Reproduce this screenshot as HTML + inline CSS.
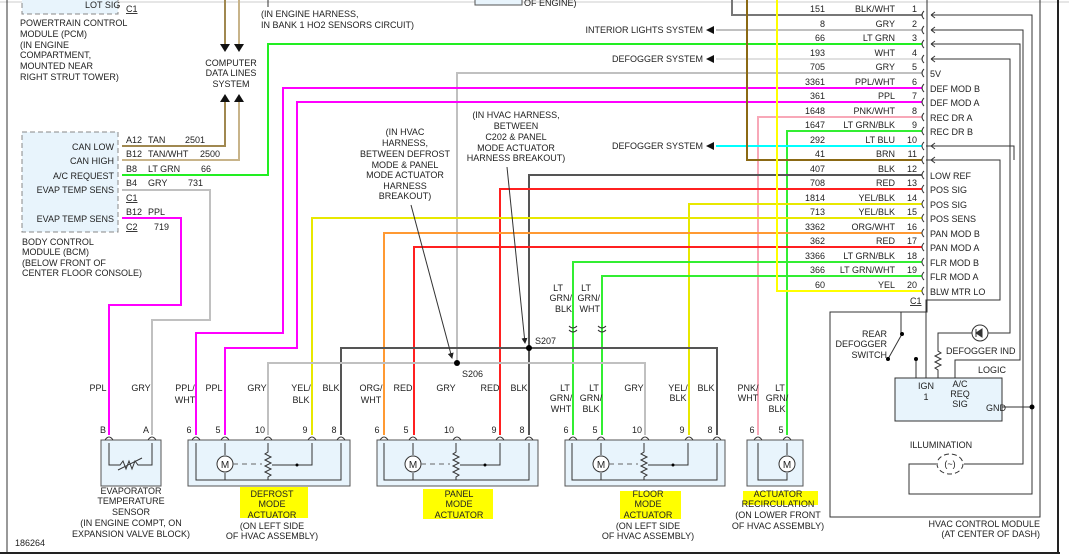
<!DOCTYPE html>
<html><head><meta charset="utf-8"><style>
html,body{margin:0;padding:0;background:#fff;}
svg{display:block;}
text{font-family:"Liberation Sans",sans-serif;font-size:9px;fill:#222;}
.r{text-anchor:end}.m{text-anchor:middle}
.w{fill:none;stroke-width:2}
.k{fill:none;stroke:#333;stroke-width:1}
</style></head><body>
<svg width="1069" height="560" viewBox="0 0 1069 560" xmlns="http://www.w3.org/2000/svg">
<defs><marker id="ah" markerWidth="6" markerHeight="6" refX="5" refY="3" orient="auto"><path d="M0,0 L6,3 L0,6z" fill="#222"/></marker></defs>
<line x1="0" y1="2" x2="1069" y2="2" stroke="#ccc"/>
<line x1="7" y1="0" x2="7" y2="553" stroke="#333"/>
<line x1="0" y1="553" x2="1060" y2="553" stroke="#222" stroke-width="2"/>
<line x1="1058" y1="0" x2="1058" y2="553" stroke="#222" stroke-width="2"/>
<text x="15" y="546">186264</text>

<rect x="22" y="-4" width="96" height="18" fill="#e8f4fc" stroke="#888" stroke-dasharray="5,3"/>
<text x="85" y="8">LOT SIG</text>
<text x="126" y="12" text-decoration="underline">C1</text>
<text x="20" y="26">POWERTRAIN CONTROL</text><text x="20" y="37">MODULE (PCM)</text><text x="20" y="48">(IN ENGINE</text><text x="20" y="58">COMPARTMENT,</text><text x="20" y="69">MOUNTED NEAR</text><text x="20" y="80">RIGHT STRUT TOWER)</text>
<line x1="268" y1="0" x2="268" y2="7" stroke="#333"/>
<text x="261" y="17">(IN ENGINE HARNESS,</text><text x="261" y="28">IN BANK 1 HO2 SENSORS CIRCUIT)</text>
<rect x="475" y="-3" width="47" height="8" fill="#e8f4fc" stroke="#555"/><text x="524" y="6">OF ENGINE)</text>

<path class="w" stroke="#a08850" d="M122,146 H225 V102"/>
<path class="w" stroke="#c8b48a" d="M122,160 H239 V102"/>
<path class="w" stroke="#a08850" d="M225,0 V44"/>
<path class="w" stroke="#c8b48a" d="M239,0 V44"/>
<path d="M220,44 h10 l-5,8z M234,44 h10 l-5,8z M220,102 h10 l-5,-8z M234,102 h10 l-5,-8z" fill="#111"/>
<text x="231" y="66" class="m">COMPUTER</text><text x="231" y="76" class="m">DATA LINES</text><text x="231" y="87" class="m">SYSTEM</text>

<rect x="22" y="132" width="96" height="100" fill="#e8f4fc" stroke="#888" stroke-dasharray="5,3"/>
<text x="114" y="150" class="r">CAN LOW</text><text x="114" y="164" class="r">CAN HIGH</text><text x="114" y="179" class="r">A/C REQUEST</text><text x="114" y="193" class="r">EVAP TEMP SENS</text><text x="114" y="222" class="r">EVAP TEMP SENS</text>
<text x="126" y="143">A12</text><text x="126" y="157">B12</text><text x="126" y="172">B8</text><text x="126" y="186">B4</text><text x="126" y="201" text-decoration="underline">C1</text><text x="126" y="215">B12</text><text x="126" y="230" text-decoration="underline">C2</text>
<text x="148" y="143">TAN</text><text x="185" y="143">2501</text><text x="148" y="157">TAN/WHT</text><text x="200" y="157">2500</text><text x="148" y="172">LT GRN</text><text x="201" y="172">66</text><text x="148" y="186">GRY</text><text x="188" y="186">731</text><text x="148" y="215">PPL</text><text x="154" y="230">719</text>
<text x="22" y="245">BODY CONTROL</text><text x="22" y="255">MODULE (BCM)</text><text x="22" y="266">(BELOW FRONT OF</text><text x="22" y="276">CENTER FLOOR CONSOLE)</text>
<path class="w" stroke="#c0c0c0" d="M122,190 H210 V320 H152 V435"/>
<path class="w" stroke="#ff00ff" d="M122,218 H181 V305 H109 V435"/>
<path class="w" stroke="#22ee22" d="M122,175 H268 V44 H922"/>

<g>
<path class="w" stroke="#777" stroke-width="1.5" d="M732,0 V15 H922"/>
<path class="w" stroke="#c0c0c0" d="M716,30 H922"/>
<path class="w" stroke="#e0e0e0" d="M716,59 H922"/>
<path class="w" stroke="#c0c0c0" d="M457,363 V73 H922"/>
<path class="w" stroke="#ff00ff" d="M196,435 V333 H283 V88 H922"/>
<path class="w" stroke="#ff00ff" d="M225,435 V348 H297 V102 H922"/>
<path class="w" stroke="#f8a8b8" d="M758,435 V117 H922"/>
<path class="w" stroke="#33ee33" d="M787,435 V131 H922"/>
<path class="w" stroke="#00ffff" d="M716,146 H922"/>
<path class="w" stroke="#8b6914" d="M747,0 V160 H922"/>
<path class="w" stroke="#555" d="M529,435 V175 H922"/>
<path class="w" stroke="#ff2020" d="M500,435 V189 H922"/>
<path class="w" stroke="#e8e800" d="M689,435 V204 H922"/>
<path class="w" stroke="#e8e800" d="M312,435 V218 H922"/>
<path class="w" stroke="#ff9933" d="M384,435 V233 H922"/>
<path class="w" stroke="#ff2020" d="M414,435 V247 H922"/>
<path class="w" stroke="#33ee33" d="M573,435 V262 H922"/>
<path class="w" stroke="#33ee33" d="M602,435 V276 H922"/>
<path class="w" stroke="#ffff00" d="M777,0 V291 H922"/>
<path class="w" stroke="#555" d="M341,435 V348 H717 V435"/>
<path class="w" stroke="#c0c0c0" d="M268,435 V363 H645 V435"/>
<circle cx="457" cy="363" r="3" fill="#000"/><circle cx="529" cy="348" r="3" fill="#000"/>
<text x="462" y="377">S206</text><text x="535" y="344">S207</text>
<path d="M706,30 l8,-4 v8z M706,59 l8,-4 v8z M706,146 l8,-4 v8z" fill="#111"/>
<text x="703" y="33" class="r">INTERIOR LIGHTS SYSTEM</text><text x="703" y="62" class="r">DEFOGGER SYSTEM</text><text x="703" y="149" class="r">DEFOGGER SYSTEM</text>
</g>
<g>
<text x="825" y="12" class="r">151</text><text x="895" y="12" class="r">BLK/WHT</text><text x="917" y="12" class="r">1</text>
<text x="825" y="27" class="r">8</text><text x="895" y="27" class="r">GRY</text><text x="917" y="27" class="r">2</text>
<text x="825" y="41" class="r">66</text><text x="895" y="41" class="r">LT GRN</text><text x="917" y="41" class="r">3</text>
<text x="825" y="56" class="r">193</text><text x="895" y="56" class="r">WHT</text><text x="917" y="56" class="r">4</text>
<text x="825" y="70" class="r">705</text><text x="895" y="70" class="r">GRY</text><text x="917" y="70" class="r">5</text>
<text x="825" y="85" class="r">3361</text><text x="895" y="85" class="r">PPL/WHT</text><text x="917" y="85" class="r">6</text>
<text x="825" y="99" class="r">361</text><text x="895" y="99" class="r">PPL</text><text x="917" y="99" class="r">7</text>
<text x="825" y="114" class="r">1648</text><text x="895" y="114" class="r">PNK/WHT</text><text x="917" y="114" class="r">8</text>
<text x="825" y="128" class="r">1647</text><text x="895" y="128" class="r">LT GRN/BLK</text><text x="917" y="128" class="r">9</text>
<text x="825" y="143" class="r">292</text><text x="895" y="143" class="r">LT BLU</text><text x="917" y="143" class="r">10</text>
<text x="825" y="157" class="r">41</text><text x="895" y="157" class="r">BRN</text><text x="917" y="157" class="r">11</text>
<text x="825" y="172" class="r">407</text><text x="895" y="172" class="r">BLK</text><text x="917" y="172" class="r">12</text>
<text x="825" y="186" class="r">708</text><text x="895" y="186" class="r">RED</text><text x="917" y="186" class="r">13</text>
<text x="825" y="201" class="r">1814</text><text x="895" y="201" class="r">YEL/BLK</text><text x="917" y="201" class="r">14</text>
<text x="825" y="215" class="r">713</text><text x="895" y="215" class="r">YEL/BLK</text><text x="917" y="215" class="r">15</text>
<text x="825" y="230" class="r">3362</text><text x="895" y="230" class="r">ORG/WHT</text><text x="917" y="230" class="r">16</text>
<text x="825" y="244" class="r">362</text><text x="895" y="244" class="r">RED</text><text x="917" y="244" class="r">17</text>
<text x="825" y="259" class="r">3366</text><text x="895" y="259" class="r">LT GRN/BLK</text><text x="917" y="259" class="r">18</text>
<text x="825" y="273" class="r">366</text><text x="895" y="273" class="r">LT GRN/WHT</text><text x="917" y="273" class="r">19</text>
<text x="825" y="288" class="r">60</text><text x="895" y="288" class="r">YEL</text><text x="917" y="288" class="r">20</text>
<text x="910" y="304" text-decoration="underline">C1</text>
<text x="930" y="77">5V</text><text x="930" y="92">DEF MOD B</text><text x="930" y="106">DEF MOD A</text><text x="930" y="121">REC DR A</text><text x="930" y="135">REC DR B</text>
<text x="930" y="179">LOW REF</text><text x="930" y="193">POS SIG</text><text x="930" y="208">POS SIG</text><text x="930" y="222">POS SENS</text><text x="930" y="237">PAN MOD B</text><text x="930" y="251">PAN MOD A</text><text x="930" y="266">FLR MOD B</text><text x="930" y="280">FLR MOD A</text><text x="930" y="295">BLW MTR LO</text>
<path class="k" d="M924,11 q-4,4 0,8 M924,26 q-4,4 0,8 M924,40 q-4,4 0,8 M924,55 q-4,4 0,8 M924,69 q-4,4 0,8 M924,84 q-4,4 0,8 M924,98 q-4,4 0,8 M924,113 q-4,4 0,8 M924,127 q-4,4 0,8 M924,142 q-4,4 0,8 M924,156 q-4,4 0,8 M924,171 q-4,4 0,8 M924,185 q-4,4 0,8 M924,200 q-4,4 0,8 M924,214 q-4,4 0,8 M924,229 q-4,4 0,8 M924,243 q-4,4 0,8 M924,258 q-4,4 0,8 M924,272 q-4,4 0,8 M924,287 q-4,4 0,8"/>
</g>
<!-- HVAC module -->
<path class="k" d="M927,0 V312 H830 V517 H1040 V0"/>
<path class="k" d="M931,15 H1032 V494 H909 V464 H936"/>
<path class="k" d="M931,30 H1023 V464 H964"/>
<path class="k" d="M931,44 H1020 V360 H955 V378"/>
<path class="k" d="M931,59 H1010 V333 H988"/>
<path class="k" d="M931,146 H926 M931,160 H926"/>
<path class="k" d="M931,15 l4,-3 M931,15 l4,3 M931,30 l4,-3 M931,30 l4,3 M931,44 l4,-3 M931,44 l4,3 M931,59 l4,-3 M931,59 l4,3 M931,146 l4,-3 M931,146 l4,3 M931,160 l4,-3 M931,160 l4,3"/>
<path class="k" d="M931,146 H1014 V160 M931,160 H1000 V300 H926 V378"/>
<path class="k" d="M901,312 V334 M916,359 V378 M1002,407 H1032"/>
<line x1="888" y1="359" x2="902" y2="334" stroke="#333"/>
<circle cx="902" cy="334" r="2" fill="#000"/><circle cx="888" cy="359" r="2" fill="#000"/><circle cx="916" cy="359" r="2" fill="#000"/><circle cx="1032" cy="407" r="2.5" fill="#000"/>
<path class="k" d="M938,378 V370 l-3,-2 l6,-3 l-6,-3 l6,-3 l-6,-3 l6,-3 l-3,-2 V333 H972"/>
<circle cx="980" cy="333" r="8" fill="#fff" stroke="#333"/><path d="M976,329 v8 M976,333 l6,-4 v8z" stroke="#333" fill="#333"/>
<text x="887" y="337" class="r">REAR</text><text x="887" y="347" class="r">DEFOGGER</text><text x="887" y="358" class="r">SWITCH</text>
<text x="946" y="354">DEFOGGER IND</text>
<rect x="895" y="378" width="107" height="43" fill="#e8f4fc" stroke="#333"/>
<text x="978" y="373">LOGIC</text><text x="926" y="389" class="m">IGN</text><text x="926" y="400" class="m">1</text>
<text x="960" y="387" class="m">A/C</text><text x="960" y="397" class="m">REQ</text><text x="960" y="407" class="m">SIG</text><text x="986" y="411">GND</text>
<text x="941" y="448" class="m">ILLUMINATION</text>
<ellipse cx="950" cy="464" rx="13" ry="10" fill="none" stroke="#333" stroke-dasharray="5,3"/>
<text x="950" y="467" class="m">(~)</text>
<text x="1040" y="527" class="r">HVAC CONTROL MODULE</text><text x="1040" y="537" class="r">(AT CENTER OF DASH)</text>

<g>
<text x="405" y="135" class="m">(IN HVAC</text><text x="405" y="146" class="m">HARNESS,</text><text x="405" y="157" class="m">BETWEEN DEFROST</text><text x="405" y="168" class="m">MODE &amp; PANEL</text><text x="405" y="178" class="m">MODE ACTUATOR</text><text x="405" y="189" class="m">HARNESS</text><text x="405" y="199" class="m">BREAKOUT)</text>
<text x="516" y="118" class="m">(IN HVAC HARNESS,</text><text x="516" y="129" class="m">BETWEEN</text><text x="516" y="140" class="m">C202 &amp; PANEL</text><text x="516" y="151" class="m">MODE ACTUATOR</text><text x="516" y="161" class="m">HARNESS BREAKOUT)</text>
</g>
<line x1="411" y1="205" x2="452" y2="358" stroke="#333" marker-end="url(#ah)"/>
<line x1="507" y1="167" x2="525" y2="343" stroke="#333" marker-end="url(#ah)"/>
<text x="563" y="291" class="r">LT</text><text x="572" y="301" class="r">GRN/</text><text x="572" y="312" class="r">BLK</text>
<text x="591" y="291" class="r">LT</text><text x="600" y="301" class="r">GRN/</text><text x="600" y="312" class="r">WHT</text>
<path class="k" d="M569,326 q4,4 8,0 M569,330 q4,4 8,0 M598,326 q4,4 8,0 M598,330 q4,4 8,0"/>

<g>
<text x="98" y="391" class="m">PPL</text><text x="141" y="391" class="m">GRY</text>
<text x="185" y="391" class="m">PPL/</text><text x="185" y="403" class="m">WHT</text><text x="214" y="391" class="m">PPL</text><text x="257" y="391" class="m">GRY</text><text x="301" y="391" class="m">YEL/</text><text x="301" y="403" class="m">BLK</text><text x="331" y="391" class="m">BLK</text>
<text x="371" y="391" class="m">ORG/</text><text x="371" y="403" class="m">WHT</text><text x="403" y="391" class="m">RED</text><text x="446" y="391" class="m">GRY</text><text x="490" y="391" class="m">RED</text><text x="519" y="391" class="m">BLK</text>
<text x="565" y="391" class="m">LT</text><text x="561" y="401" class="m">GRN/</text><text x="561" y="412" class="m">WHT</text><text x="594" y="391" class="m">LT</text><text x="591" y="401" class="m">GRN/</text><text x="591" y="412" class="m">BLK</text><text x="634" y="391" class="m">GRY</text><text x="678" y="391" class="m">YEL/</text><text x="678" y="401" class="m">BLK</text><text x="706" y="391" class="m">BLK</text>
<text x="748" y="391" class="m">PNK/</text><text x="748" y="401" class="m">WHT</text><text x="780" y="391" class="m">LT</text><text x="777" y="401" class="m">GRN/</text><text x="777" y="412" class="m">BLK</text>
<text x="103" y="433" class="m">B</text><text x="146" y="433" class="m">A</text>
<text x="189" y="433" class="m">6</text><text x="218" y="433" class="m">5</text><text x="260" y="433" class="m">10</text><text x="305" y="433" class="m">9</text><text x="334" y="433" class="m">8</text>
<text x="377" y="433" class="m">6</text><text x="406" y="433" class="m">5</text><text x="449" y="433" class="m">10</text><text x="494" y="433" class="m">9</text><text x="522" y="433" class="m">8</text>
<text x="566" y="433" class="m">6</text><text x="595" y="433" class="m">5</text><text x="637" y="433" class="m">10</text><text x="682" y="433" class="m">9</text><text x="710" y="433" class="m">8</text>
<text x="752" y="433" class="m">6</text><text x="781" y="433" class="m">5</text>
</g>
<rect x="101" y="440" width="60" height="46" fill="#e8f4fc" stroke="#555"/>
<rect x="188" y="440" width="162" height="46" fill="#e8f4fc" stroke="#555"/>
<rect x="377" y="440" width="161" height="46" fill="#e8f4fc" stroke="#555"/>
<rect x="565" y="440" width="160" height="46" fill="#e8f4fc" stroke="#555"/>
<rect x="747" y="440" width="56" height="46" fill="#e8f4fc" stroke="#555"/>
<path class="k" d="M105,440 q4,-6 8,0 M148,440 q4,-6 8,0 M192,440 q4,-6 8,0 M221,440 q4,-6 8,0 M264,440 q4,-6 8,0 M308,440 q4,-6 8,0 M337,440 q4,-6 8,0 M380,440 q4,-6 8,0 M409,440 q4,-6 8,0 M453,440 q4,-6 8,0 M496,440 q4,-6 8,0 M525,440 q4,-6 8,0 M569,440 q4,-6 8,0 M597,440 q4,-6 8,0 M641,440 q4,-6 8,0 M685,440 q4,-6 8,0 M713,440 q4,-6 8,0 M754,440 q4,-6 8,0 M783,440 q4,-6 8,0"/>
<path class="k" d="M109,443 V465 H120 l3,-4 l3,8 l3,-8 l3,8 l3,-8 l3,4 H152 V443 M118,470 L142,458"/>
<g id="act">
<path class="k" d="M196,443 V480 H341 V443 M225,443 V455 M225,473 V480 M268,443 V452 l-3,2 l6,3 l-6,3 l6,3 l-6,3 l6,3 l-6,3 l6,3 l-3,2 V480 M312,443 V465 H272"/>
<circle cx="225" cy="464" r="8" fill="#fff" stroke="#333"/><text x="225" y="468" class="m" style="font-size:10px">M</text>
<line x1="233" y1="464" x2="262" y2="464" stroke="#666" stroke-dasharray="5,4"/>
<circle cx="297" cy="465" r="1.5" fill="#000"/>
</g>
<use href="#act" x="188"/>
<use href="#act" x="376"/>
<path class="k" d="M758,443 V480 H787 V473 M787,443 V455"/>
<circle cx="787" cy="464" r="8" fill="#fff" stroke="#333"/><text x="787" y="468" class="m" style="font-size:10px">M</text>
<rect x="240" y="487" width="68" height="31" fill="#ffff00"/>
<rect x="423" y="489" width="70" height="30" fill="#ffff00"/>
<rect x="620" y="491" width="61" height="28" fill="#ffff00"/>
<rect x="743" y="491" width="75" height="14" fill="#ffff00"/>
<g>
<text x="131" y="494" class="m">EVAPORATOR</text><text x="131" y="504" class="m">TEMPERATURE</text><text x="131" y="515" class="m">SENSOR</text><text x="131" y="526" class="m">(IN ENGINE COMPT, ON</text><text x="131" y="537" class="m">EXPANSION VALVE BLOCK)</text>
<text x="272" y="497" class="m">DEFROST</text><text x="272" y="507" class="m">MODE</text><text x="272" y="518" class="m">ACTUATOR</text><text x="272" y="529" class="m">(ON LEFT SIDE</text><text x="272" y="539" class="m">OF HVAC ASSEMBLY)</text>
<text x="459" y="497" class="m">PANEL</text><text x="459" y="507" class="m">MODE</text><text x="459" y="518" class="m">ACTUATOR</text>
<text x="648" y="497" class="m">FLOOR</text><text x="648" y="507" class="m">MODE</text><text x="648" y="518" class="m">ACTUATOR</text><text x="648" y="529" class="m">(ON LEFT SIDE</text><text x="648" y="539" class="m">OF HVAC ASSEMBLY)</text>
<text x="778" y="497" class="m">ACTUATOR</text><text x="778" y="507" class="m">RECIRCULATION</text><text x="778" y="518" class="m">(ON LOWER FRONT</text><text x="778" y="529" class="m">OF HVAC ASSEMBLY)</text>
</g>
</svg>
</body></html>
